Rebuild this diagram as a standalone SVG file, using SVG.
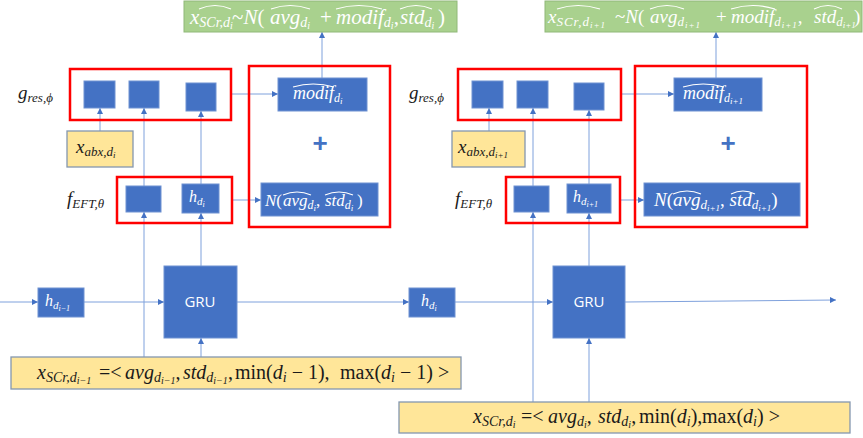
<svg xmlns="http://www.w3.org/2000/svg" width="863" height="438" viewBox="0 0 863 438">
<style>
.blue{fill:#4472C4;stroke:#6E92D2;stroke-width:1}
.red{fill:none;stroke:#FF0000;stroke-width:2.5}
.yel{fill:#FFE699;stroke:#8497B0;stroke-width:1.3}
.grn{fill:#A9D18E;stroke:#90B878;stroke-width:1}
.conn{stroke:#7FA1DC;stroke-width:1;fill:none;marker-end:url(#ah)}
.m{font-family:"Liberation Serif","DejaVu Serif",serif;font-style:italic}
.up{font-style:normal}
.w{fill:#fff}
.k{fill:#1a1a1a}
.ls{letter-spacing:1px}
.hat{fill:none;stroke:#fff;stroke-width:1.1}
.gru{font-family:"Open Sans","Liberation Sans",sans-serif;font-size:15px;fill:#fff;text-anchor:middle}
</style>
<defs>
<marker id="ah" markerWidth="6" markerHeight="6" refX="6" refY="3" orient="auto" markerUnits="userSpaceOnUse">
<path d="M0,0 L6,3 L0,6 z" fill="#4472C4"/>
</marker>
</defs>
<rect width="863" height="438" fill="#fff"/>

<g id="connectors">
<line class="conn" x1="0" y1="302" x2="38" y2="302"/>
<line class="conn" x1="84" y1="302" x2="164" y2="302"/>
<line class="conn" x1="237" y1="302" x2="409" y2="302"/>
<line class="conn" x1="201" y1="357" x2="201" y2="338"/>
<line class="conn" x1="144" y1="358" x2="144" y2="212"/>
<line class="conn" x1="144" y1="186" x2="144" y2="108"/>
<line class="conn" x1="201" y1="266" x2="201" y2="213"/>
<line class="conn" x1="201" y1="184" x2="201" y2="111"/>
<line class="conn" x1="100" y1="131" x2="100" y2="108"/>
<line class="conn" x1="232" y1="94" x2="278" y2="94"/>
<line class="conn" x1="232" y1="200" x2="261" y2="200"/>
<line class="conn" x1="322" y1="78" x2="322" y2="32"/>
<line class="conn" x1="455" y1="302" x2="553" y2="302"/>
<line class="conn" x1="625" y1="302" x2="836" y2="300"/>
<line class="conn" x1="589" y1="402" x2="589" y2="338"/>
<line class="conn" x1="533" y1="402" x2="533" y2="212"/>
<line class="conn" x1="533" y1="186" x2="533" y2="108"/>
<line class="conn" x1="589" y1="266" x2="589" y2="213"/>
<line class="conn" x1="589" y1="184" x2="589" y2="110"/>
<line class="conn" x1="489" y1="131" x2="489" y2="108"/>
<line class="conn" x1="621" y1="94" x2="674" y2="94"/>
<line class="conn" x1="620" y1="200" x2="644" y2="200"/>
<line class="conn" x1="716" y1="78" x2="716" y2="32"/>
</g>

<!-- left panel -->
<g id="green-left">
<rect class="grn" x="184" y="1" width="273" height="31"/>
<text class="m w" y="24" font-size="21"><tspan x="190">x</tspan><tspan font-size="14" dy="3">SCr,d</tspan><tspan font-size="10" dy="2">i</tspan><tspan x="232" dy="-5" class="up">~</tspan><tspan>N</tspan><tspan class="up">(</tspan><tspan x="270">avg</tspan><tspan font-size="14" dy="3">d</tspan><tspan font-size="10" dy="2">i</tspan><tspan x="320" dy="-5" class="up">+</tspan><tspan x="336">modif</tspan><tspan font-size="14" dy="3">d</tspan><tspan font-size="10" dy="2">i</tspan><tspan class="up" dy="-5">,</tspan><tspan x="400">std</tspan><tspan font-size="14" dy="3">d</tspan><tspan font-size="10" dy="2">i</tspan><tspan x="438" dy="-5" class="up">)</tspan></text>
<path class="hat" d="M199,9 Q215,2 231,9 M271,9 Q290,2 310,9 M336,9 Q359,2 382,9 M400,9 Q416,2 432,9"/>
</g>
<g id="gres-left">
<text class="m k" x="18" y="99" font-size="19">g<tspan font-size="13" dy="3">res,ϕ</tspan></text>
<rect class="red" x="70" y="69" width="161" height="51"/>
<rect class="blue" x="84" y="81" width="31" height="27"/>
<rect class="blue" x="129" y="81" width="30" height="27"/>
<rect class="blue" x="186" y="83" width="30" height="28"/>
</g>
<g id="xabx-left">
<rect class="yel" x="67" y="131" width="66" height="36"/>
<text class="m k" x="76" y="153" font-size="19">x<tspan font-size="13" dy="3">abx,d</tspan><tspan font-size="9" dy="2">i</tspan></text>
</g>
<g id="feft-left">
<text class="m k" x="67" y="205" font-size="19">f<tspan font-size="13" dy="3">EFT,θ</tspan></text>
<rect class="red" x="117" y="177" width="115" height="46"/>
<rect class="blue" x="126" y="186" width="35" height="26"/>
<rect class="blue" x="182" y="184" width="37" height="29"/>
<text class="m w" x="189" y="202" font-size="16">h<tspan font-size="11" dy="3">d</tspan><tspan font-size="8" dy="2">i</tspan></text>
</g>
<g id="out-left">
<rect class="red" x="249" y="66" width="141" height="161"/>
<rect class="blue" x="278" y="78" width="89" height="33"/>
<text class="m w" x="293" y="99" font-size="18">modif<tspan font-size="12" dy="3">d</tspan><tspan font-size="9" dy="2">i</tspan></text>
<path class="hat" d="M293,87 Q313,81 334,87"/>
<text x="320" y="152" font-family="Liberation Sans,sans-serif" font-weight="bold" font-size="26" fill="#4472C4" text-anchor="middle">+</text>
<rect class="blue" x="261" y="183" width="117" height="33"/>
<text class="m w" y="206" font-size="17"><tspan x="265">N</tspan><tspan class="up">(</tspan><tspan x="283">avg</tspan><tspan font-size="12" dy="3">d</tspan><tspan font-size="9" dy="2">i</tspan><tspan class="up" dy="-5">,</tspan><tspan x="325">std</tspan><tspan font-size="12" dy="3">d</tspan><tspan font-size="9" dy="2">i</tspan><tspan x="357" class="up" dy="-5">)</tspan></text>
<path class="hat" d="M283,195 Q297,189 311,195 M325,195 Q339,189 353,195"/>
</g>
<g id="h-prev">
<rect class="blue" x="38" y="288" width="46" height="29"/>
<text class="m w" x="45" y="306" font-size="16">h<tspan font-size="11" dy="3">d</tspan><tspan font-size="8" dy="2">i−1</tspan></text>
</g>
<g id="gru-left">
<rect class="blue" x="164" y="266" width="73" height="72"/>
<text class="gru" x="200" y="307">GRU</text>
</g>
<g id="xscr-prev">
<rect class="yel" x="11" y="357" width="450" height="32"/>
<text class="m k" y="379" font-size="20"><tspan x="37">x</tspan><tspan font-size="14" dy="3">SCr,d</tspan><tspan font-size="10" dy="2">i−1</tspan><tspan x="99" dy="-5" class="up">=&lt;</tspan><tspan x="125">avg</tspan><tspan font-size="14" dy="3">d</tspan><tspan font-size="10" dy="2">i−1</tspan><tspan class="up" dy="-5">,</tspan><tspan x="183">std</tspan><tspan font-size="14" dy="3">d</tspan><tspan font-size="10" dy="2">i−1</tspan><tspan class="up" dy="-5">,</tspan><tspan x="235" class="up">min(</tspan><tspan>d</tspan><tspan font-size="14" dy="3">i</tspan><tspan class="up" dy="-3"> − 1),</tspan><tspan x="340" class="up">max(</tspan><tspan>d</tspan><tspan font-size="14" dy="3">i</tspan><tspan class="up" dy="-3"> − 1) &gt;</tspan></text>
</g>

<!-- right panel -->
<g id="green-right">
<rect class="grn" x="545" y="1" width="317" height="31"/>
<text class="m w" y="23" font-size="19"><tspan x="548">x</tspan><tspan class="ls" font-size="13" dy="3">SCr,d</tspan><tspan class="ls" font-size="9" dy="2">i+1</tspan><tspan x="615" dy="-5" class="up">~</tspan><tspan>N</tspan><tspan class="up">(</tspan><tspan x="650">avg</tspan><tspan class="ls" font-size="13" dy="3">d</tspan><tspan class="ls" font-size="9" dy="2">i+1</tspan><tspan x="716" dy="-5" class="up">+</tspan><tspan x="731">modif</tspan><tspan class="ls" font-size="13" dy="3">d</tspan><tspan class="ls" font-size="9" dy="2">i+1</tspan><tspan class="up" dy="-5">,</tspan><tspan x="814">std</tspan><tspan font-size="13" dy="3">d</tspan><tspan font-size="9" dy="2">i+1</tspan><tspan x="854" dy="-5" class="up">)</tspan></text>
<path class="hat" d="M557,9 Q578,2 600,9 M650,9 Q667,2 684,9 M731,9 Q753,2 775,9 M814,9 Q828,2 842,9"/>
</g>
<g id="gres-right">
<text class="m k" x="409" y="99" font-size="19">g<tspan font-size="13" dy="3">res,ϕ</tspan></text>
<rect class="red" x="458" y="69" width="163" height="51"/>
<rect class="blue" x="472" y="81" width="31" height="27"/>
<rect class="blue" x="517" y="81" width="31" height="27"/>
<rect class="blue" x="574" y="83" width="30" height="27"/>
</g>
<g id="xabx-right">
<rect class="yel" x="452" y="131" width="73" height="36"/>
<text class="m k" x="458" y="153" font-size="19">x<tspan font-size="13" dy="3">abx,d</tspan><tspan font-size="9" dy="2">i+1</tspan></text>
</g>
<g id="feft-right">
<text class="m k" x="455" y="205" font-size="19">f<tspan font-size="13" dy="3">EFT,θ</tspan></text>
<rect class="red" x="506" y="177" width="114" height="46"/>
<rect class="blue" x="514" y="186" width="35" height="26"/>
<rect class="blue" x="567" y="184" width="44" height="29"/>
<text class="m w" x="573" y="202" font-size="16">h<tspan font-size="11" dy="3">d</tspan><tspan font-size="8" dy="2">i+1</tspan></text>
</g>
<g id="out-right">
<rect class="red" x="635" y="66" width="172" height="161"/>
<rect class="blue" x="674" y="78" width="88" height="33"/>
<text class="m w" x="683" y="99" font-size="18">modif<tspan font-size="12" dy="3">d</tspan><tspan font-size="9" dy="2">i+1</tspan></text>
<path class="hat" d="M683,87 Q703,81 724,87"/>
<text x="728" y="152" font-family="Liberation Sans,sans-serif" font-weight="bold" font-size="26" fill="#4472C4" text-anchor="middle">+</text>
<rect class="blue" x="644" y="183" width="156" height="33"/>
<text class="m w" y="206" font-size="19"><tspan x="654">N</tspan><tspan class="up">(</tspan><tspan>avg</tspan><tspan font-size="13" dy="3">d</tspan><tspan font-size="9" dy="2">i+1</tspan><tspan class="up" dy="-5">, </tspan><tspan>std</tspan><tspan font-size="13" dy="3">d</tspan><tspan font-size="9" dy="2">i+1</tspan><tspan class="up" dy="-5">)</tspan></text>
<path class="hat" d="M673,194 Q687,188 701,194 M731,194 Q743,188 755,194"/>
</g>
<g id="h-cur">
<rect class="blue" x="409" y="288" width="46" height="29"/>
<text class="m w" x="421" y="306" font-size="16">h<tspan font-size="11" dy="3">d</tspan><tspan font-size="8" dy="2">i</tspan></text>
</g>
<g id="gru-right">
<rect class="blue" x="553" y="266" width="72" height="72"/>
<text class="gru" x="589" y="307">GRU</text>
</g>
<g id="xscr-cur">
<rect class="yel" x="399" y="402" width="451" height="31"/>
<text class="m k" y="423" font-size="20"><tspan x="473">x</tspan><tspan font-size="14" dy="3">SCr,d</tspan><tspan font-size="10" dy="2">i</tspan><tspan x="521" dy="-5" class="up">=&lt;</tspan><tspan x="548">avg</tspan><tspan font-size="14" dy="3">d</tspan><tspan font-size="10" dy="2">i</tspan><tspan class="up" dy="-5">,</tspan><tspan x="598">std</tspan><tspan font-size="14" dy="3">d</tspan><tspan font-size="10" dy="2">i</tspan><tspan class="up" dy="-5">,</tspan><tspan x="639" class="up">min(</tspan><tspan>d</tspan><tspan font-size="14" dy="3">i</tspan><tspan class="up" dy="-3">),</tspan><tspan x="702" class="up">max(</tspan><tspan>d</tspan><tspan font-size="14" dy="3">i</tspan><tspan class="up" dy="-3">) &gt;</tspan></text>
</g>
</svg>
